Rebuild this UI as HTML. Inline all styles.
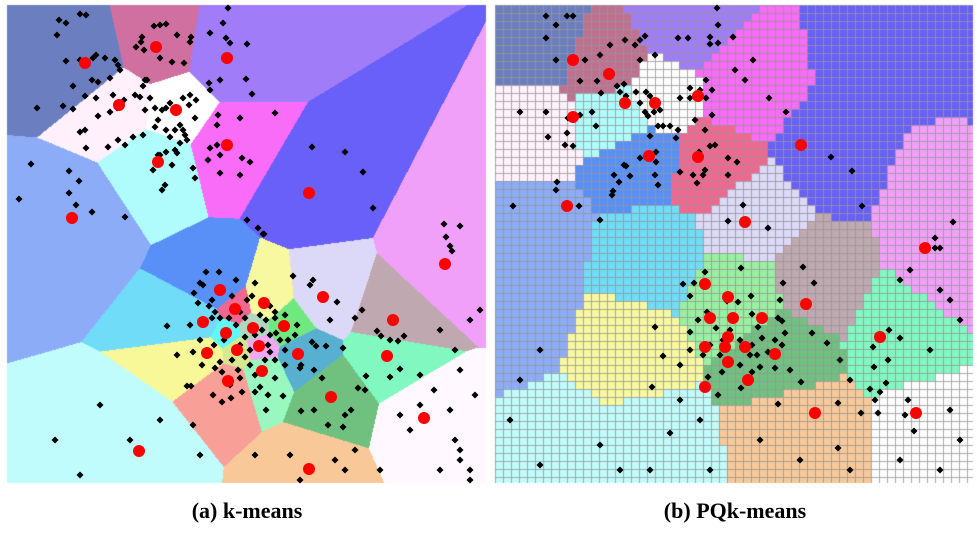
<!DOCTYPE html>
<html><head><meta charset="utf-8">
<style>
html,body{margin:0;padding:0;background:#fff;width:977px;height:533px;overflow:hidden;}
#wrap{position:relative;width:977px;height:533px;}
canvas,svg{position:absolute;left:0;top:0;}
.cap{position:absolute;top:498px;font-family:"Liberation Serif",serif;font-weight:bold;font-size:22px;color:#000;white-space:nowrap;transform:translateX(-50%);}
</style></head>
<body>
<div id="wrap">
<canvas id="cv" width="977" height="490"></canvas>
<svg id="sv" width="977" height="490"></svg>
<div class="cap" style="left:247px">(a) k-means</div>
<div class="cap" style="left:735px">(b) PQk-means</div>
</div>
<script>
// ---- data ----
const leftCx=[85,156,227,119,176,227,158,309,72,445,323,393,220,235,264,203,226,253,284,237,259,207,298,228,262,387,331,424,139,309];
const leftCy=[63,47,58,105,110,145,162,193,218,264,297,320,290,309,303,322,333,328,326,350,346,353,354,381,371,356,397,418,451,469];
const leftColors=["#6b7fc0","#d070a0","#a07cf8","#fff0fc","#ffffff","#f86cf8","#b0fcfc","#6860f8","#8cacf8","#f0a0f8","#dcd8f8","#c0a8b0","#5890f8","#f06890","#f8f8a0","#70dcf8","#60f8f8","#b0d8c0","#70e880","#d8e890","#f0a8f0","#f8f898","#58b0d0","#f8a098","#98f8c0","#80f8c0","#70c080","#fff8ff","#c0fcfc","#f8c898"];
const leftPts=[[80,14],[86,15],[59,20],[66,23],[57,35],[66,61],[80,60],[93,58],[96,55],[105,58],[115,60],[118,65],[120,70],[110,78],[92,80],[98,82],[73,86],[85,96],[96,98],[63,106],[37,108],[73,109],[145,80],[140,97],[136,47],[141,42],[154,26],[160,25],[166,24],[142,37],[144,50],[160,58],[172,62],[177,35],[191,37],[190,42],[184,63],[147,80],[228,8],[223,23],[210,33],[226,38],[230,43],[247,44],[246,79],[252,94],[209,83],[210,90],[220,80],[124,100],[113,95],[117,108],[110,112],[143,86],[150,98],[135,95],[145,110],[155,108],[162,110],[158,120],[166,108],[170,103],[183,98],[190,95],[196,100],[189,105],[195,118],[180,125],[183,130],[155,127],[166,130],[175,130],[170,137],[185,135],[187,140],[180,143],[143,135],[133,137],[118,140],[125,145],[86,148],[80,132],[85,130],[98,116],[108,147],[160,155],[166,152],[175,150],[177,153],[172,165],[193,168],[195,178],[165,185],[162,190],[158,155],[153,170],[208,160],[210,148],[217,145],[220,155],[217,125],[218,115],[242,158],[240,175],[250,162],[220,173],[240,118],[275,113],[312,147],[345,152],[363,172],[373,208],[247,220],[258,228],[263,234],[31,164],[69,171],[69,193],[79,181],[76,205],[92,212],[19,199],[125,217],[444,224],[460,226],[446,237],[450,246],[452,251],
[264,234],[219,272],[255,283],[206,272],[200,283],[203,285],[194,293],[209,306],[212,318],[167,326],[177,355],[193,352],[202,365],[215,368],[191,386],[222,402],[213,395],[187,386],[231,398],[260,387],[268,395],[266,410],[283,396],[322,378],[300,368],[301,365],[314,370],[316,346],[326,346],[330,320],[312,342],[343,348],[390,340],[381,336],[400,369],[390,377],[365,390],[358,388],[345,415],[351,410],[301,411],[314,410],[328,425],[343,427],[366,376],[404,336],[398,341],[377,331],[362,310],[355,318],[337,302],[293,276],[313,280],[310,285],[236,280],[252,296],[270,306],[266,320],[275,312],[247,300],[232,296],[240,312],[245,318],[212,300],[198,303],[215,312],[220,318],[229,318],[236,325],[245,337],[255,335],[262,330],[270,335],[276,333],[280,340],[268,345],[250,350],[245,357],[232,360],[220,362],[222,372],[238,370],[250,365],[255,375],[270,352],[275,360],[285,350],[288,340],[275,318],[285,315],[260,315],[214,345],[200,340],[190,325],[224,340],[240,345],[265,360],[240,378],[230,385],[242,392],[255,392],[275,378],[285,365],[295,335],[297,325],
[420,405],[434,390],[450,410],[455,440],[460,450],[470,470],[470,480],[410,430],[400,415],[440,470],[460,460],[55,440],[80,475],[100,405],[130,440],[160,420],[193,425],[200,455],[255,455],[290,455],[335,460],[345,470],[355,450],[380,470],[300,480],[470,320],[480,310],[455,350],[440,330],[460,370],[420,375],[475,395]];

const rightSx=[540,680,745,880,830,955,945,950,530,608,620,655,640,712,752,530,650,815,905,625,560,645,800,935,778,742,515];
const rightSy=[40,25,90,60,150,40,200,270,130,62,115,95,160,165,215,232,255,282,330,352,440,445,432,432,350,300,320];
const rightColors=["#6b7fc0","#a07cf8","#f86cf8","#6860f8","#6860f8","#6860f8","#f0a0f8","#f0a0f8","#fff0fc","#c07090","#b0fcfc","#ffffff","#5890f8","#f06890","#dcd8f8","#8cacf8","#70dcf8","#c0a8b0","#80f8c0","#f8f8a0","#c0fcfc","#c0fcfc","#f8c898","#ffffff","#70c080","#98f0a0","#8cacf8"];
const rightCenters=[[573,60],[609,74],[625,103],[655,103],[698,96],[573,117],[649,156],[698,157],[801,145],[567,206],[745,222],[925,248],[705,284],[728,297],[710,318],[733,318],[762,318],[728,337],[705,347],[725,347],[745,347],[775,354],[728,362],[705,387],[748,380],[806,304],[880,337],[815,413],[916,413]];
const rightPts=[[546,16],[567,16],[573,16],[556,25],[546,38],[556,60],[572,60],[585,60],[600,55],[610,45],[625,40],[640,40],[645,36],[635,45],[640,60],[655,55],[678,38],[688,38],[710,37],[710,44],[718,43],[717,8],[733,37],[718,25],[735,70],[745,80],[753,60],[769,98],[786,112],[831,157],[852,171],[862,206],[953,222],[935,238],[935,248],[940,248],[580,81],[597,81],[601,93],[592,112],[580,115],[568,118],[546,112],[520,112],[548,137],[567,133],[565,145],[573,146],[596,126],[617,86],[620,92],[626,96],[624,84],[636,92],[646,92],[650,96],[640,103],[645,112],[648,116],[654,112],[660,110],[658,126],[663,126],[670,126],[678,130],[676,138],[690,98],[680,98],[690,88],[700,90],[706,80],[712,90],[706,98],[712,115],[705,130],[695,120],[715,145],[710,146],[699,152],[650,136],[656,152],[656,162],[640,158],[626,166],[614,175],[613,191],[655,175],[658,185],[680,172],[693,175],[705,170],[697,183],[703,175],[728,158],[728,175],[737,162],[743,205],[768,228],[728,221],[513,206],[579,206],[557,182],[556,190],[600,220],[619,182],[630,176],[612,195],[624,165],
[705,272],[741,268],[694,283],[683,284],[690,296],[727,301],[783,283],[803,267],[814,283],[751,296],[738,302],[734,318],[752,314],[782,321],[758,327],[730,330],[740,340],[723,340],[707,312],[698,320],[690,332],[655,327],[663,356],[680,365],[690,350],[703,355],[710,345],[716,328],[720,355],[722,372],[708,377],[705,385],[730,360],[740,365],[750,355],[752,345],[762,338],[775,340],[785,333],[782,345],[768,352],[760,367],[775,368],[790,370],[801,382],[778,404],[741,388],[752,372],[757,355],[778,318],[780,300],[812,333],[827,343],[873,347],[874,367],[850,380],[840,360],[889,330],[900,338],[888,360],[886,383],[880,392],[838,403],[816,414],[861,413],[870,389],[838,448],[878,413],[875,400],[908,400],[905,415],[914,431],[718,395],[700,420],[680,400],[652,387],[670,433],[710,470],[760,440],[800,460],[540,350],[520,380],[510,420],[600,445],[620,470],[650,470],[540,465],[940,290],[950,300],[960,320],[900,280],[910,270],[930,350],[950,410],[960,440],[900,460],[850,470],[940,470]];

const L={x:7,y:5,w:479,h:478};
const R={x:495,y:5,w:478,h:478};
const cell=8;

function nearest(px,py,xs,ys){let b=0,bd=1e12;for(let i=0;i<xs.length;i++){const dx=px-xs[i],dy=py-ys[i],d=dx*dx+dy*dy;if(d<bd){bd=d;b=i;}}return b;}
function hexRGB(h){return [parseInt(h.substr(1,2),16),parseInt(h.substr(3,2),16),parseInt(h.substr(5,2),16)];}

const cv=document.getElementById('cv');const ctx=cv.getContext('2d');
const img=ctx.createImageData(L.w,L.h);
const lrgb=leftColors.map(hexRGB);
for(let y=0;y<L.h;y++)for(let x=0;x<L.w;x++){const k=nearest(L.x+x,L.y+y,leftCx,leftCy);const c=lrgb[k];const o=(y*L.w+x)*4;img.data[o]=c[0];img.data[o+1]=c[1];img.data[o+2]=c[2];img.data[o+3]=255;}
ctx.putImageData(img,L.x,L.y);
for(let by=0;by<R.h;by+=cell)for(let bx=0;bx<R.w;bx+=cell){const k=nearest(R.x+bx+cell/2,R.y+by+cell/2,rightSx,rightSy);ctx.fillStyle=rightColors[k];ctx.fillRect(R.x+bx,R.y+by,Math.min(cell,R.w-bx),Math.min(cell,R.h-by));}
ctx.fillStyle='rgba(150,150,150,0.8)';
for(let bx=0;bx<=R.w;bx+=cell)ctx.fillRect(R.x+bx,R.y,1,R.h);
for(let by=0;by<=R.h;by+=cell)ctx.fillRect(R.x,R.y+by,R.w,1);

const NS='http://www.w3.org/2000/svg';const sv=document.getElementById('sv');
function diamond(p,name){const e=document.createElementNS(NS,'path');const x=p[0],y=p[1];e.setAttribute('d',`M${x} ${y-3.5}L${x+3.5} ${y}L${x} ${y+3.5}L${x-3.5} ${y}Z`);e.setAttribute('fill','#000');


sv.appendChild(e);}
function dot(x,y,name){const e=document.createElementNS(NS,'circle');e.setAttribute('cx',x);e.setAttribute('cy',y);e.setAttribute('r',6);e.setAttribute('fill','#ff0000');


sv.appendChild(e);}
leftPts.forEach(p=>diamond(p,'kmeans-data-point'));
for(let i=0;i<leftCx.length;i++)dot(leftCx[i],leftCy[i],'kmeans-centroid');
rightPts.forEach(p=>diamond(p,'pqkmeans-data-point'));
rightCenters.forEach(c=>dot(c[0],c[1],'pqkmeans-centroid'));
</script>
</body></html>
